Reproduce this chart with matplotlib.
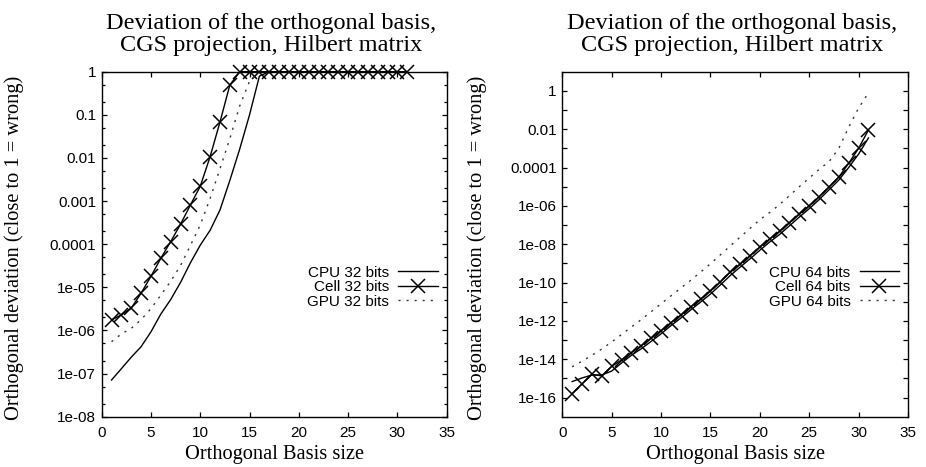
import matplotlib

matplotlib.use("Agg")
import matplotlib.pyplot as plt  # noqa: E402
from matplotlib.ticker import FixedFormatter, FixedLocator, LogLocator, NullFormatter  # noqa: E402

# basis sizes 1..31
SIZES = list(range(1, 32))

# single precision runs
CPU_32 = [7.1e-08, 1.3e-07, 2.4e-07, 4.2e-07, 9.3e-07, 2.4e-06, 5.2e-06, 1.3e-05,
          3.7e-05, 9.5e-05, 2.1e-04, 6.2e-04, 3.0e-03, 1.6e-02, 0.1, 0.79,
          1, 1, 1, 1, 1, 1, 1, 1, 1, 1, 1, 1, 1, 1, 1]
CELL_32 = [1.75e-06, 2.3e-06, 3.3e-06, 7.3e-06, 1.8e-05, 4.7e-05, 1.15e-04, 2.9e-04,
           8.1e-04, 2.2e-03, 1.07e-02, 6.8e-02, 0.49,
           1, 1, 1, 1, 1, 1, 1, 1, 1, 1, 1, 1, 1, 1, 1, 1, 1, 1]
GPU_32 = [5.5e-07, 8.3e-07, 1.12e-06, 1.78e-06, 3.2e-06, 6.6e-06, 1.38e-05, 3.2e-05,
          9.3e-05, 2.8e-04, 1.15e-03, 5.6e-03, 2.8e-02, 0.16, 0.6,
          1, 1, 1, 1, 1, 1, 1, 1, 1, 1, 1, 1, 1, 1, 1, 1]

# double precision runs
CPU_64 = [6.8e-16, 1.05e-15, 1.5e-15, 1.5e-15, 2.4e-15, 6.3e-15, 1.6e-14, 3.5e-14,
          8.5e-14, 2.1e-13, 5.6e-13, 1.4e-12, 3.7e-12, 9.5e-12, 2.5e-11, 7.4e-11,
          2.3e-10, 6.3e-10, 1.7e-09, 4.8e-09, 1.3e-08, 3.2e-08, 9.1e-08, 2.6e-07,
          7.1e-07, 2.1e-06, 6.8e-06, 2.2e-05, 1.0e-04, 5.0e-04, 3.5e-03]
CELL_64 = [1.6e-16, 5.2e-16, 1.6e-15, 1.35e-15, 4.2e-15, 9.1e-15, 2.2e-14, 5.0e-14,
           1.23e-13, 3.1e-13, 8.1e-13, 2.0e-12, 5.4e-12, 1.35e-11, 3.6e-11, 1.07e-10,
           3.4e-10, 8.9e-10, 2.5e-09, 7.1e-09, 1.9e-08, 4.7e-08, 1.3e-07, 3.7e-07,
           1.0e-06, 3.0e-06, 9.5e-06, 3.2e-05, 1.66e-04, 1.0e-03, 9.1e-03]
GPU_64 = [4.0e-15, 7.9e-15, 1.6e-14, 3.4e-14, 7.9e-14, 1.95e-13, 4.8e-13, 1.17e-12,
          3.0e-12, 7.8e-12, 2.0e-11, 5.1e-11, 1.3e-10, 3.5e-10, 9.5e-10, 2.75e-09,
          8.1e-09, 2.3e-08, 6.6e-08, 1.9e-07, 4.5e-07, 1.17e-06, 3.4e-06, 1.0e-05,
          2.8e-05, 7.9e-05, 2.0e-04, 1.0e-03, 1.26e-02, 0.126, 0.79]

X_TICKS = [0, 5, 10, 15, 20, 25, 30, 35]
Y_TICKS_32 = [1e-08, 1e-07, 1e-06, 1e-05, 1e-04, 1e-03, 1e-02, 1e-01, 1]
Y_LABELS_32 = ["1e-08", "1e-07", "1e-06", "1e-05", "0.0001", "0.001", "0.01", "0.1", "1"]
Y_TICKS_64 = [1e-16, 1e-14, 1e-12, 1e-10, 1e-08, 1e-06, 1e-04, 1e-02, 1]
Y_LABELS_64 = ["1e-16", "1e-14", "1e-12", "1e-10", "1e-08", "1e-06", "0.0001", "0.01", "1"]
Y_MINOR_64 = [1e-15, 1e-13, 1e-11, 1e-09, 1e-07, 1e-05, 1e-03, 1e-01]

TITLE = "Deviation of the orthogonal basis,\nCGS projection, Hilbert matrix"
XLABEL = "Orthogonal Basis size"
YLABEL = "Orthogonal deviation (close to 1 = wrong)"

SERIF = ["Liberation Serif", "DejaVu Serif"]
SANS = ["Liberation Sans", "DejaVu Sans"]

plt.rcParams["font.family"] = SANS
plt.rcParams["font.size"] = 11


def draw_panel(ax, cpu, cell, gpu, bits, ylim, yticks, ylabels):
    ax.plot(SIZES, cpu, color="black", lw=1.0, label=f"CPU {bits} bits")
    ax.plot(SIZES, cell, color="black", lw=1.0, marker="x", ms=9.5, mew=1.1,
            clip_on=False, label=f"Cell {bits} bits")
    ax.plot(SIZES, gpu, color="#333333", lw=1.0, ls=(0, (1.5, 4.3)),
            label=f"GPU {bits} bits")

    ax.set_yscale("log")
    ax.set_xlim(0, 35)
    ax.set_ylim(*ylim)
    ax.xaxis.set_major_locator(FixedLocator(X_TICKS))
    ax.yaxis.set_major_locator(FixedLocator(yticks))
    ax.yaxis.set_major_formatter(FixedFormatter(ylabels))

    ax.tick_params(which="both", direction="in", top=True, right=True,
                   width=0.9, labelsize=11)
    ax.tick_params(which="major", length=3.8, pad=4)
    ax.tick_params(axis="x", which="major", pad=7)
    for s in ax.spines.values():
        s.set_linewidth(1.0)

    ax.set_title(TITLE, fontfamily=SERIF, fontsize=17.5, linespacing=1.08,
                 pad=15, x=0.49)
    ax.set_xlabel(XLABEL, fontfamily=SERIF, fontsize=14.7, labelpad=3)
    ax.set_ylabel(YLABEL, fontfamily=SERIF, fontsize=14.7)

    ax.legend(loc="upper right", bbox_to_anchor=(0.975, 0.438), frameon=False,
              markerfirst=False, handlelength=2.6, handletextpad=0.6,
              labelspacing=0.04, borderpad=0, borderaxespad=0, fontsize=11)


fig = plt.figure(figsize=(9.26, 4.67), dpi=100)
ax32 = fig.add_axes([0.1098, 0.1077, 0.3726, 0.7388])
ax64 = fig.add_axes([0.6072, 0.1077, 0.3733, 0.7388])

draw_panel(ax32, CPU_32, CELL_32, GPU_32, 32, (1e-08, 1), Y_TICKS_32, Y_LABELS_32)
ax32.yaxis.set_minor_locator(LogLocator(base=10, subs=(2.0, 5.0), numticks=50))
ax32.yaxis.set_minor_formatter(NullFormatter())
ax32.tick_params(which="minor", length=2.2)
ax32.yaxis.set_label_coords(-0.225, 0.49)

draw_panel(ax64, CPU_64, CELL_64, GPU_64, 64, (1e-17, 10), Y_TICKS_64, Y_LABELS_64)
ax64.yaxis.set_minor_locator(FixedLocator(Y_MINOR_64))
ax64.yaxis.set_minor_formatter(NullFormatter())
ax64.tick_params(which="minor", length=3.8)
ax64.yaxis.set_label_coords(-0.218, 0.49)

fig.savefig("out.png", dpi=100)
